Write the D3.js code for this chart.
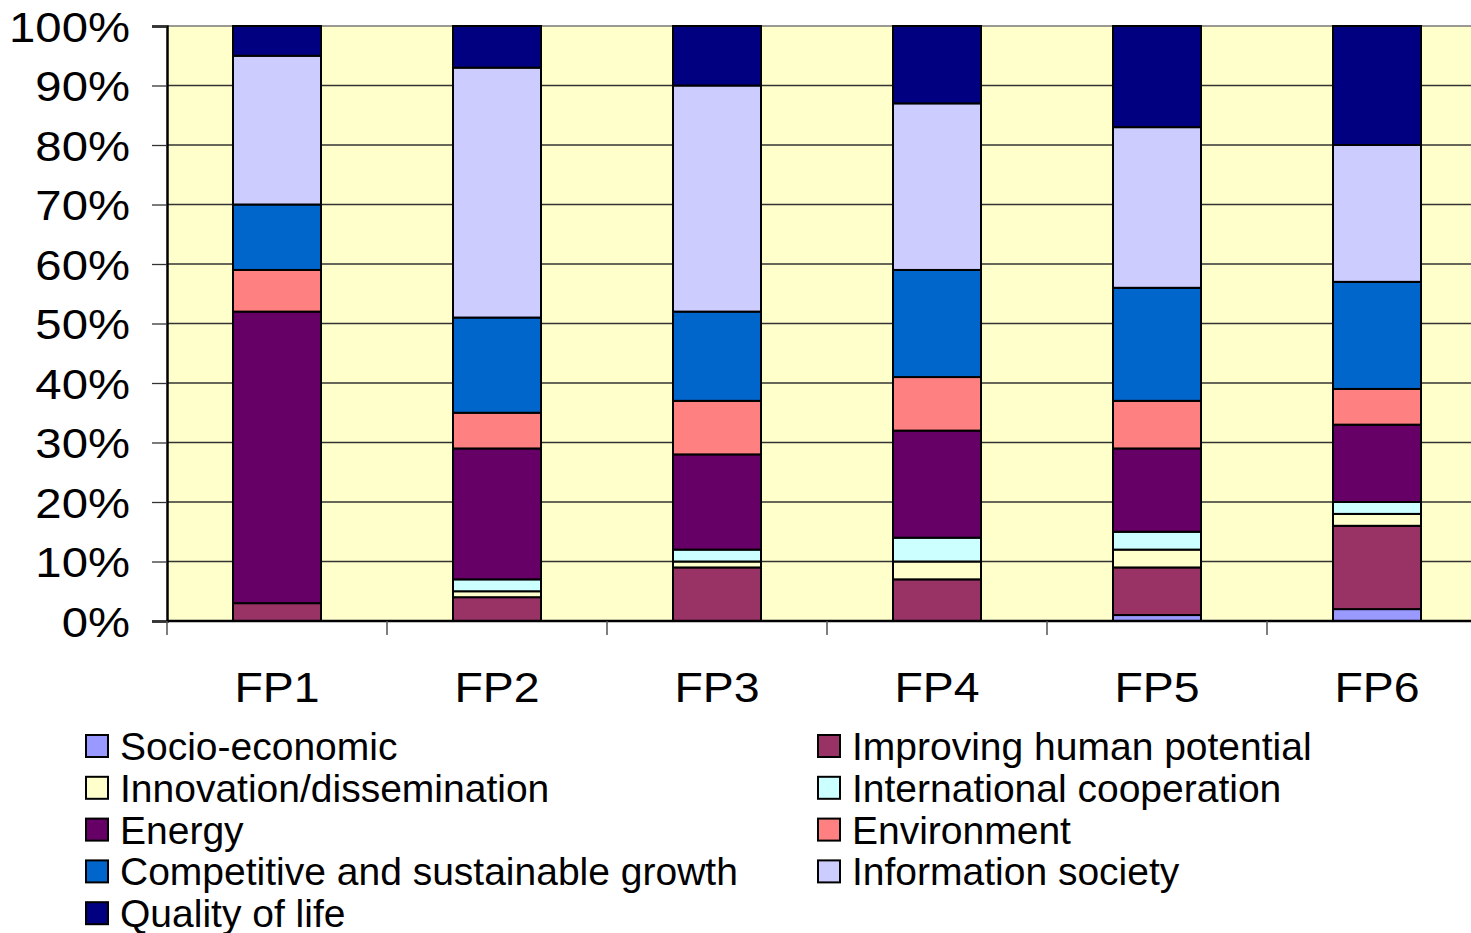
<!DOCTYPE html>
<html>
<head>
<meta charset="utf-8">
<script src="https://cdn.jsdelivr.net/npm/d3@7"></script>
<style>
	body { margin: 0; background: #fff; }
	svg { display: block; font-family: "Liberation Sans", Arial, sans-serif; }
</style>
</head>
<body>
<svg id="chart"></svg>
<script>
//Data (percent of budget per framework programme).
const programmes = ['FP1', 'FP2', 'FP3', 'FP4', 'FP5', 'FP6'];
const themes = ['Socio-economic', 'Improving human potential', 'Innovation/dissemination',
	'International cooperation', 'Energy', 'Environment',
	'Competitive and sustainable growth', 'Information society', 'Quality of life'];
const socioEconomic = [0, 0, 0, 0, 1, 2];
const humanPotential = [3, 4, 9, 7, 8, 14];
const innovation = [0, 1, 1, 3, 3, 2];
const internationalCoop = [0, 2, 2, 4, 3, 2];
const energy = [49, 22, 16, 18, 14, 13];
const environment = [7, 6, 9, 9, 8, 6];
const competitiveGrowth = [11, 16, 15, 18, 19, 18];
const informationSociety = [25, 42, 38, 28, 27, 23];
const qualityOfLife = [5, 7, 10, 13, 17, 20];
const yTicks = [0, 10, 20, 30, 40, 50, 60, 70, 80, 90, 100];
const colours = ['#9999ff', '#993366', '#ffffcc', '#ccffff', '#660066',
	'#ff8080', '#0066cc', '#ccccff', '#000080'];

const series = [socioEconomic, humanPotential, innovation, internationalCoop, energy,
	environment, competitiveGrowth, informationSociety, qualityOfLife];

const width = 1471, height = 933;
const margin = {top: 26, left: 167, bottom: 312};
const innerHeight = height - margin.top - margin.bottom;
const bandStep = 220;

const svg = d3.select('#chart')
	.attr('width', width)
	.attr('height', height);

//Table for d3.stack: one row per programme.
const table = programmes.map((p, i) => {
	const row = {programme: p};
	themes.forEach((t, j) => { row[t] = series[j][i]; });
	return row;
});
const stacked = d3.stack().keys(themes)(table);

const x = d3.scaleBand()
	.domain(programmes)
	.range([margin.left, margin.left + bandStep * programmes.length])
	.padding(0);
const y = d3.scaleLinear()
	.domain([0, 100])
	.range([margin.top + innerHeight, margin.top]);

//Widen axis labels a little: the original font is broader than Liberation Sans.
function stretch(sel, k) {
	sel.each(function() {
		const len = this.getComputedTextLength();
		d3.select(this)
			.attr('textLength', len * k)
			.attr('lengthAdjust', 'spacingAndGlyphs');
	});
}

//Plot background.
svg.append('rect')
	.attr('x', margin.left)
	.attr('y', margin.top)
	.attr('width', width - margin.left)
	.attr('height', innerHeight)
	.style('fill', '#ffffcc');

//Gridlines.
svg.append('g')
	.selectAll('line')
	.data(yTicks)
	.join('line')
	.attr('x1', margin.left)
	.attr('x2', width)
	.attr('y1', d => y(d))
	.attr('y2', d => y(d))
	.style('stroke', d => d === 100 ? '#777' : '#333')
	.style('stroke-width', 1.3);

//Bars.
const bw = x.bandwidth() * 0.4;
svg.append('g')
	.selectAll('g')
	.data(stacked)
	.join('g')
	.style('fill', (d, i) => colours[i])
	.selectAll('rect')
	.data(d => d.filter(s => s[1] - s[0] > 0))
	.join('rect')
	.attr('x', d => x(d.data.programme) + (x.bandwidth() - bw) / 2)
	.attr('y', d => y(d[1]))
	.attr('width', bw)
	.attr('height', d => y(d[0]) - y(d[1]))
	.style('stroke', '#000')
	.style('stroke-width', 2);

//Y axis.
const yAxis = svg.append('g')
	.attr('transform', `translate(${margin.left},0)`)
	.call(d3.axisLeft(y).tickValues(yTicks).tickSize(15).tickPadding(22)
		.tickFormat(d => d + '%'));
yAxis.select('.domain').style('stroke', '#000').style('stroke-width', 2.5);
yAxis.selectAll('.tick line').style('stroke', '#333').style('stroke-width', 1.3);
yAxis.selectAll('text')
	.style('font-size', '43px')
	.style('fill', '#000')
	.attr('dy', '0.36em')
	.call(stretch, 1.1);

//X axis.
const xAxis = svg.append('g')
	.attr('transform', `translate(0,${y(0)})`)
	.call(d3.axisBottom(x).tickSize(0).tickPadding(50));
xAxis.select('.domain').remove();
svg.append('line')
	.attr('x1', margin.left)
	.attr('x2', width)
	.attr('y1', y(0))
	.attr('y2', y(0))
	.style('stroke', '#000')
	.style('stroke-width', 2.5);
svg.append('g')
	.selectAll('line')
	.data(programmes)
	.join('line')
	.attr('x1', d => x(d))
	.attr('x2', d => x(d))
	.attr('y1', y(0))
	.attr('y2', y(0) + 14)
	.style('stroke', '#555')
	.style('stroke-width', 1.5);
xAxis.selectAll('text')
	.style('font-size', '43px')
	.style('fill', '#000')
	.attr('dy', '0.71em')
	.call(stretch, 1.08);

//Legend: two columns, filled row by row.
const legend = svg.append('g');
const items = legend.selectAll('g')
	.data(themes)
	.join('g')
	.attr('transform', (d, i) => `translate(${i % 2 === 0 ? 86 : 818},${746 + Math.floor(i / 2) * 41.8})`);
items.append('rect')
	.attr('x', 0)
	.attr('y', -11)
	.attr('width', 22)
	.attr('height', 22)
	.style('fill', (d, i) => colours[i])
	.style('stroke', '#000')
	.style('stroke-width', 2);
items.append('text')
	.text(d => d)
	.attr('x', 34)
	.attr('y', 0)
	.attr('dy', '0.36em')
	.style('font-size', '39px')
	.style('fill', '#000');
</script>
</body>
</html>
